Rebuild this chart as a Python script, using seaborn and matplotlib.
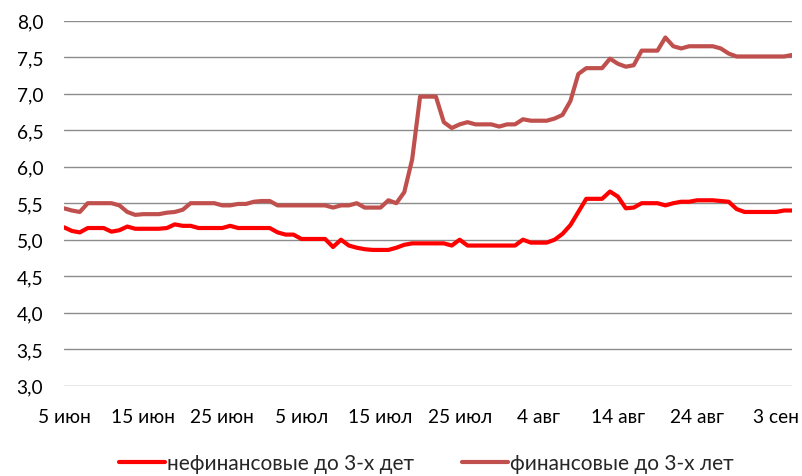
import pandas as pd
import numpy as np
import matplotlib
matplotlib.use('Agg')
import matplotlib.pyplot as plt
import seaborn as sns
from matplotlib.ticker import FuncFormatter, MultipleLocator

# daily values, 5 June .. 5 September
start_date = '2013-06-05'
nonfin = [5.17, 5.12, 5.10, 5.16, 5.16, 5.16, 5.11, 5.13, 5.18, 5.15,
          5.15, 5.15, 5.15, 5.16, 5.21, 5.19, 5.19, 5.16, 5.16, 5.16,
          5.16, 5.19, 5.16, 5.16, 5.16, 5.16, 5.16, 5.10, 5.07, 5.07,
          5.01, 5.01, 5.01, 5.01, 4.90, 5.00, 4.92, 4.89, 4.87, 4.86,
          4.86, 4.86, 4.89, 4.93, 4.95, 4.95, 4.95, 4.95, 4.95, 4.92,
          5.00, 4.92, 4.92, 4.92, 4.92, 4.92, 4.92, 4.92, 5.00, 4.96,
          4.96, 4.96, 5.00, 5.08, 5.20, 5.38, 5.56, 5.56, 5.56, 5.66,
          5.59, 5.43, 5.44, 5.50, 5.50, 5.50, 5.47, 5.50, 5.52, 5.52,
          5.54, 5.54, 5.54, 5.53, 5.52, 5.42, 5.38, 5.38, 5.38, 5.38,
          5.38, 5.40, 5.40]
fin = [5.43, 5.40, 5.38, 5.50, 5.50, 5.50, 5.50, 5.47, 5.38, 5.34,
       5.35, 5.35, 5.35, 5.37, 5.38, 5.41, 5.50, 5.50, 5.50, 5.50,
       5.47, 5.47, 5.49, 5.49, 5.52, 5.53, 5.53, 5.47, 5.47, 5.47,
       5.47, 5.47, 5.47, 5.47, 5.44, 5.47, 5.47, 5.50, 5.44, 5.44,
       5.44, 5.54, 5.50, 5.65, 6.10, 6.96, 6.96, 6.96, 6.61, 6.53,
       6.58, 6.61, 6.58, 6.58, 6.58, 6.55, 6.58, 6.58, 6.65, 6.63,
       6.63, 6.63, 6.66, 6.71, 6.90, 7.27, 7.35, 7.35, 7.35, 7.48,
       7.41, 7.37, 7.39, 7.59, 7.59, 7.59, 7.77, 7.65, 7.62, 7.65,
       7.65, 7.65, 7.65, 7.62, 7.55, 7.51, 7.51, 7.51, 7.51, 7.51,
       7.51, 7.51, 7.53]
series_names = ['нефинансовые до 3-х дет', 'финансовые до 3-х лет']
tick_labels = ['5 июн', '15 июн', '25 июн', '5 июл', '15 июл', '25 июл',
               '4 авг', '14 авг', '24 авг', '3 сен']

dates = pd.date_range(start_date, periods=len(fin), freq='D')
df = pd.concat([
    pd.DataFrame({'date': dates, 'value': nonfin, 'series': series_names[0]}),
    pd.DataFrame({'date': dates, 'value': fin, 'series': series_names[1]}),
])

sns.set_style('white')
plt.rcParams['font.family'] = ['Lato', 'DejaVu Sans']

fig = plt.figure(figsize=(8.02, 4.77), dpi=100)
ax = fig.add_axes([0.0798, 0.1893, 0.9077, 0.7652])

sns.lineplot(data=df, x='date', y='value', hue='series', hue_order=series_names,
             palette=['#FF0000', '#C0504D'], linewidth=3.0, ax=ax, legend=True)

ax.set_ylim(3.0, 8.0)
ax.set_xlim(dates[0], dates[-1])
ax.yaxis.set_major_locator(MultipleLocator(0.5))
ax.yaxis.set_major_formatter(FuncFormatter(lambda v, p: f'{v:.1f}'.replace('.', ',')))
ax.set_xticks(dates[::10])
ax.set_xticklabels(tick_labels)
ax.grid(axis='y', color='#8c8c8c', linewidth=1.0)
ax.set_axisbelow(True)
for s in ax.spines.values():
    s.set_visible(False)
ax.tick_params(axis='both', length=0, labelsize=13.8, colors='#000000')
ax.tick_params(axis='y', pad=15)
ax.tick_params(axis='x', pad=16)
ax.set_xlabel('')
ax.set_ylabel('')

ax.legend(loc='center', bbox_to_anchor=(0.498, -0.212), ncol=2, frameon=False,
          fontsize=15, handlelength=2.2, handletextpad=0.1, columnspacing=2.3)

fig.savefig('out.png', dpi=100)
